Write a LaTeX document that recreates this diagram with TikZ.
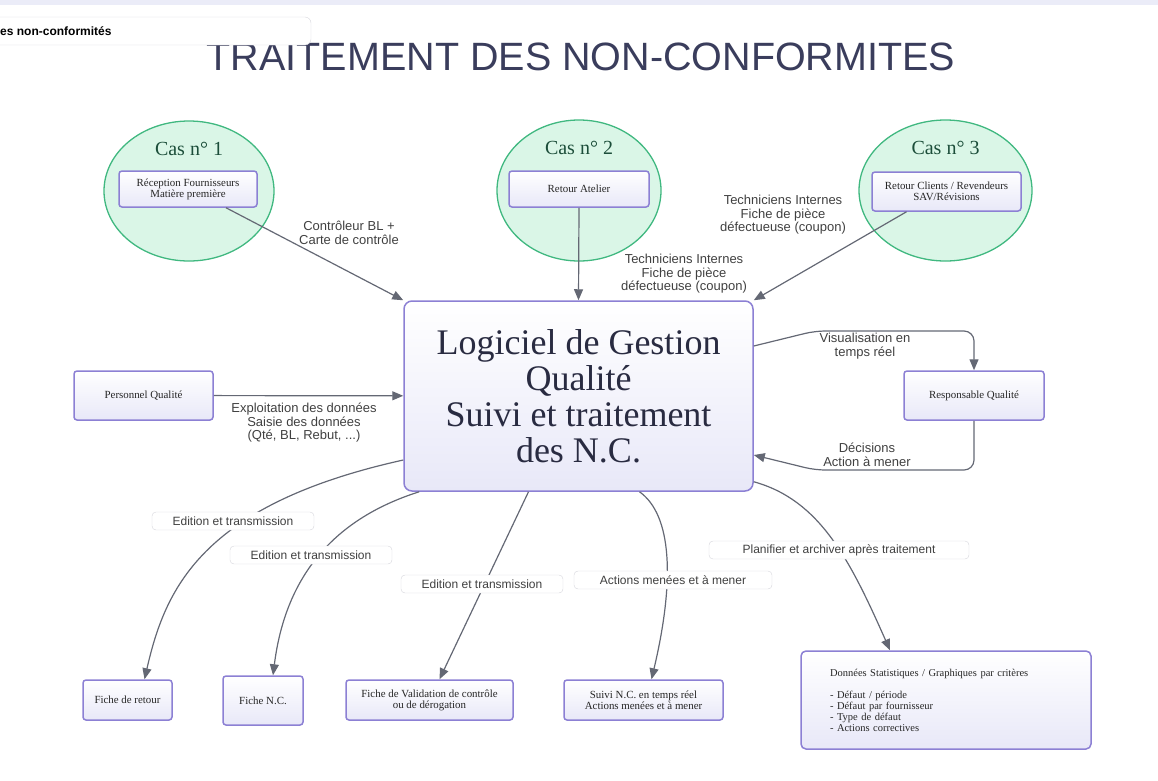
\documentclass[tikz,border=0pt]{standalone}
\usepackage{fontspec}
\setmainfont{Liberation Serif}
\setsansfont{Liberation Sans}
\usetikzlibrary{arrows.meta, positioning, shapes.geometric}

\definecolor{titlecol}{RGB}{58,61,92}
\definecolor{linecol}{RGB}{100,104,116}
\definecolor{boxedge}{RGB}{140,128,212}
\definecolor{boxfill}{RGB}{232,232,248}
\definecolor{casfill}{RGB}{218,246,231}
\definecolor{casedge}{RGB}{64,184,128}
\definecolor{castext}{RGB}{28,78,58}
\definecolor{lbledge}{RGB}{214,214,220}
\definecolor{topbar}{RGB}{235,236,248}

\begin{document}
\begin{tikzpicture}[
    x=1pt, y=-1pt,
    cas/.style={ellipse, draw=casedge, line width=1.3pt, fill=casfill, minimum width=170pt, minimum height=140pt, inner sep=0pt},
    castitle/.style={font=\fontsize{20}{22}\selectfont, text=castext},
    box/.style={rectangle, rounded corners=3pt, draw=boxedge, line width=1.5pt, top color=white, bottom color=boxfill, align=center, font=\fontsize{10.9}{11}\selectfont, text=black!85},
    lbl/.style={font=\sffamily\fontsize{13}{13.5}\selectfont, text=black!75, align=center},
    tag/.style={rectangle, rounded corners=4pt, draw=lbledge, fill=white, minimum height=18pt, inner sep=0pt, font=\sffamily\fontsize{12}{12}\selectfont, text=black!75},
    arrow/.style={-{Triangle[length=11pt, width=9pt]}, draw=linecol, line width=1.2pt}
]
\useasboundingbox (0,0) rectangle (1158,780);
\clip (0,0) rectangle (1158,780);
\fill[topbar] (0,0) rectangle (1158,5);

\node[font=\sffamily\fontsize{39.5}{40}\selectfont, text=titlecol, anchor=base] (titre) at (581,70) {TRAITEMENT DES NON-CONFORMITES};

\draw[draw=lbledge, fill=white, rounded corners=6pt] (-20,17) rectangle (311,45);
\node[anchor=west, inner sep=0pt, font=\sffamily\bfseries\fontsize{12}{12}\selectfont] (onglet) at (0,31) {es non-conformités};

\node[cas] (cas1) at (189,191) {};
\node[cas, minimum width=164pt, minimum height=141pt] (cas2) at (579,190.5) {};
\node[cas, minimum width=173pt, minimum height=141pt] (cas3) at (945.5,190.5) {};
\node[castitle, below=18pt of cas1.north] (titre1) {Cas n° 1};
\node[castitle, below=18pt of cas2.north] (titre2) {Cas n° 2};
\node[castitle, below=18pt of cas3.north] (titre3) {Cas n° 3};

\node[box, minimum width=138pt, minimum height=36pt] (reception) at (188,189) {Réception Fournisseurs\\Matière première};
\node[box, minimum width=140pt, minimum height=36pt] (atelier) at (579,189) {Retour Atelier};
\node[box, minimum width=149pt, minimum height=39pt] (clients) at (946.5,191.5) {Retour Clients / Revendeurs\\SAV/Révisions};

\node[box, rounded corners=8pt, minimum width=349pt, minimum height=190pt, font=\fontsize{36}{36}\selectfont, text=titlecol!70!black] (logiciel) at (578.5,396) {Logiciel de Gestion\\Qualité\\Suivi et traitement\\des N.C.};

\node[box, minimum width=139pt, minimum height=49pt] (personnel) at (143.5,395.5) {Personnel Qualité};
\node[box, minimum width=140pt, minimum height=49pt] (responsable) at (974,395.5) {Responsable Qualité};

\node[box, minimum width=89pt, minimum height=40pt] (ficheretour) at (127.5,700) {Fiche de retour};
\node[box, minimum width=80pt, minimum height=49pt] (fichenc) at (263,700.5) {Fiche N.C.};
\node[box, minimum width=167pt, minimum height=40pt] (validation) at (429.5,700) {Fiche de Validation de contrôle\\ou de dérogation};
\node[box, minimum width=159pt, minimum height=40pt] (suivi) at (643.5,700) {Suivi N.C. en temps réel\\Actions menées et à mener};
\node[box, rounded corners=5pt, minimum width=290pt, minimum height=98pt, text width=232pt, align=left, font=\fontsize{10.5}{11}\selectfont] (stats) at (946,700) {Données Statistiques / Graphiques par critères\\[11pt]- Défaut / période\\- Défaut par fournisseur\\- Type de défaut\\- Actions correctives};

\draw[arrow] ([xshift=38pt]reception.south) -- (logiciel.north west);
\draw[arrow] (atelier.south) -- (logiciel.north);
\draw[arrow] ([xshift=-40pt]clients.south) -- (logiciel.north east);
\draw[arrow] (personnel) -- (logiciel);
\draw[arrow, rounded corners=10pt] ([yshift=50pt]logiciel.east) -- (815,331) -| (responsable.north);
\draw[arrow, rounded corners=10pt] (responsable.south) |- (815,470) -- ([yshift=-59pt]logiciel.east);

\draw[arrow] ([yshift=-64pt]logiciel.west) .. controls (200,505) and (165,590) .. ([xshift=17pt]ficheretour.north);
\draw[arrow] ([xshift=16pt]logiciel.south west) .. controls (330,520) and (285,580) .. ([xshift=10pt]fichenc.north);
\draw[arrow] ([xshift=-50pt]logiciel.south) -- ([xshift=10pt]validation.north);
\draw[arrow] ([xshift=61pt]logiciel.south) .. controls (672,515) and (675,580) .. ([xshift=8pt]suivi.north);
\draw[arrow] ([yshift=10pt]logiciel.south east) .. controls (820,500) and (850,560) .. ([xshift=-56pt]stats.north);

\node[lbl] (controle) at (349,233) {Contrôleur BL +\\Carte de contrôle};
\node[lbl] (tech2) at (684,274) {Techniciens Internes\\Fiche de pièce\\défectueuse (coupon)};
\node[lbl] (tech3) at (783,215) {Techniciens Internes\\Fiche de pièce\\défectueuse (coupon)};
\node[lbl] (saisie) at (304,423) {Exploitation des données\\Saisie des données\\(Qté, BL, Rebut, ...)};
\node[lbl] (visu) at (865,346) {Visualisation en\\temps réel};
\node[lbl] (decisions) at (867,455) {Décisions\\Action à mener};

\node[tag, minimum width=162pt] (edition1) at (233,521) {Edition et transmission};
\node[tag, minimum width=162pt] (edition2) at (311,555) {Edition et transmission};
\node[tag, minimum width=162pt] (edition3) at (482,584) {Edition et transmission};
\node[tag, minimum width=198pt] (actions) at (673,580) {Actions menées et à mener};
\node[tag, minimum width=260pt] (archiver) at (839,550) {Planifier et archiver après traitement};

\end{tikzpicture}
\end{document}
